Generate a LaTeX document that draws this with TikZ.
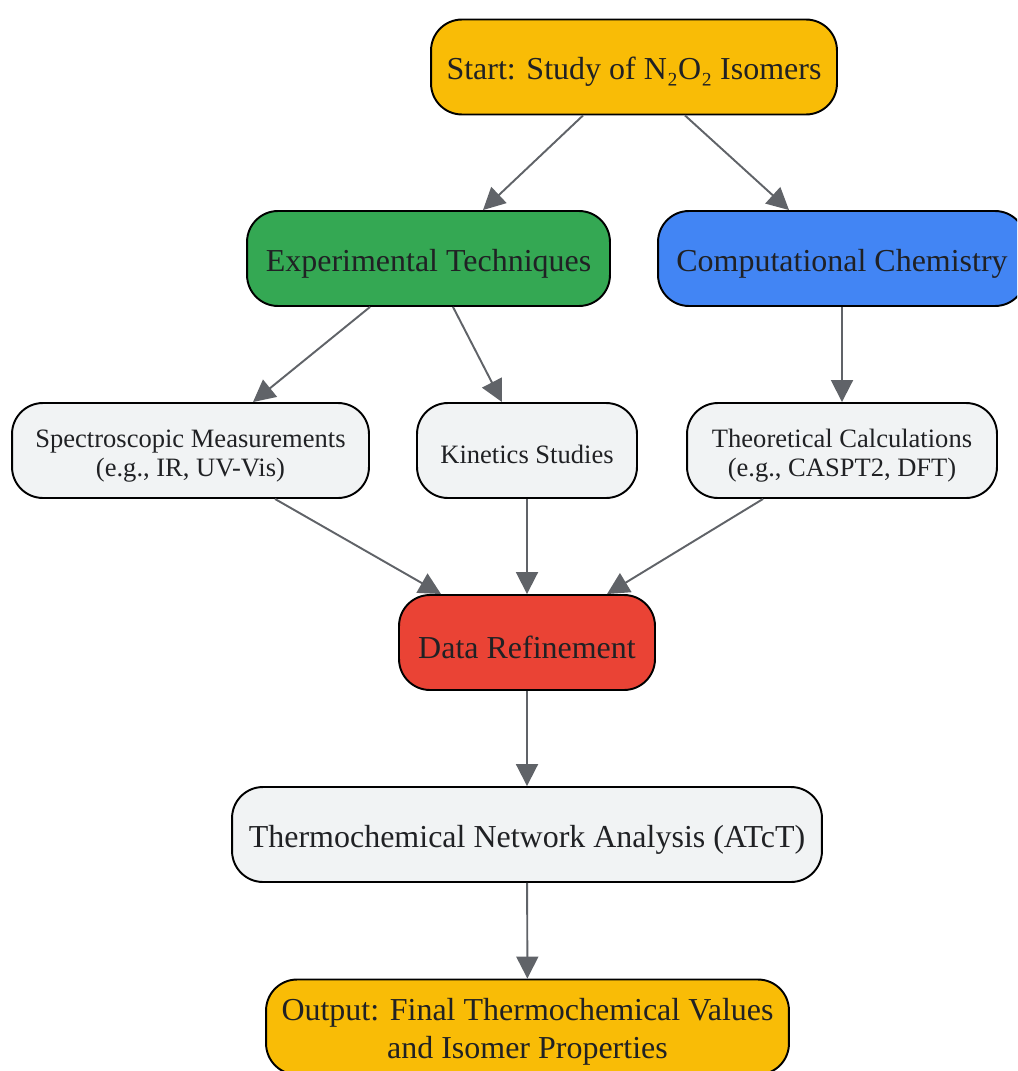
\documentclass[tikz,border=0pt]{standalone}
\usepackage{fontspec}
\setmainfont{Liberation Serif}
\usetikzlibrary{arrows.meta}
\definecolor{gyellow}{HTML}{F9BC06}
\definecolor{ggreen}{HTML}{34A853}
\definecolor{gblue}{HTML}{4285F4}
\definecolor{gred}{HTML}{EA4335}
\definecolor{ggray}{HTML}{F1F3F4}
\definecolor{gtext}{HTML}{202124}
\definecolor{garrow}{HTML}{606368}
\tikzset{
  box/.style={draw=black, line width=1.1pt, rounded corners=0.62cm, align=center,
    minimum height=1.9cm, text=gtext, font=\fontsize{18.2}{21.6}\selectfont,
    execute at begin node={\rule{0pt}{1em}}},
  twoline/.style={execute at begin node={\rule{0pt}{2.2em}}},
  small/.style={box, fill=ggray, font=\fontsize{15.1}{16.5}\selectfont},
  arr/.style={draw=garrow, line width=1.1pt, -{Triangle[length=0.44cm, width=0.44cm]}}
}

\begin{document}
\begin{tikzpicture}[x=0.02cm, y=-0.02cm]
				\useasboundingbox (0,0) rectangle (1017,1071);
				\clip (0,0) rectangle (1017,1071);
				
				\node[box, fill=gyellow, minimum width=8.12cm] (start) at (634,67) {Start: Study of N₂O₂ Isomers};
				
				\node[box, fill=ggreen, minimum width=7.26cm] (exp) at (428.5,258.5) {Experimental Techniques};
				\node[box, fill=gblue, minimum width=7.36cm] (comp) at (842,258.5) {Computational Chemistry};
				
				\node[small, twoline, minimum width=7.14cm] (spec) at (190.5,450.5) {Spectroscopic Measurements\\(e.g., IR, UV-Vis)};
				\node[small, minimum width=4.4cm] (kin) at (527,450.5) {Kinetics Studies};
				\node[small, twoline, minimum width=6.2cm] (theo) at (842,450.5) {Theoretical Calculations\\(e.g., CASPT2, DFT)};
				
				\node[box, fill=gred, minimum width=5.12cm] (data) at (527,642.5) {Data Refinement};
				\node[box, fill=ggray, minimum width=11.8cm] (atct) at (527,834.5) {Thermochemical Network Analysis (ATcT)};
				\node[box, twoline, fill=gyellow, minimum width=10.46cm] (out) at (527.5,1027) {Output: Final Thermochemical Values\\and Isomer Properties};
				
				\draw[arr] ([xshift=-1.02cm]start.south) -- ([xshift=1.09cm]exp.north);
				\draw[arr] ([xshift=1.02cm]start.south) -- ([xshift=-1.06cm]comp.north);
				\draw[arr] ([xshift=-1.17cm]exp.south) -- ([xshift=1.25cm]spec.north);
				\draw[arr] ([xshift=0.49cm]exp.south) -- ([xshift=-0.5cm]kin.north);
				\draw[arr] (comp) -- (theo);
				\draw[arr] ([xshift=1.69cm]spec.south) -- ([xshift=-1.72cm]data.north);
				\draw[arr] (kin) -- (data);
				\draw[arr] ([xshift=-1.58cm]theo.south) -- ([xshift=1.6cm]data.north);
				\draw[arr] (data) -- (atct);
				\draw[arr] (atct) -- (out);
			\end{tikzpicture}
\end{document}
